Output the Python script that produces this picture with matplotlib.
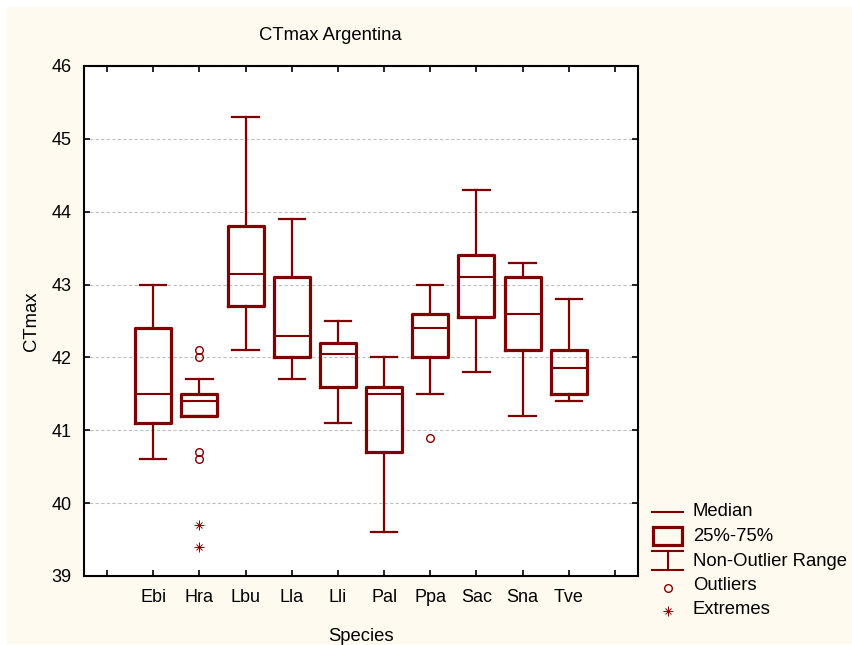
import matplotlib
matplotlib.use('Agg')
import matplotlib.pyplot as plt
from matplotlib.patches import Rectangle

plt.rcParams['font.family'] = ['Liberation Sans', 'DejaVu Sans']

species = ['Ebi', 'Hra', 'Lbu', 'Lla', 'Lli', 'Pal', 'Ppa', 'Sac', 'Sna', 'Tve']
whis_lo = [40.6, 41.2, 42.1, 41.7, 41.1, 39.6, 41.5, 41.8, 41.2, 41.4]
q1 = [41.1, 41.2, 42.7, 42.0, 41.6, 40.7, 42.0, 42.55, 42.1, 41.5]
median = [41.5, 41.4, 43.15, 42.3, 42.05, 41.5, 42.4, 43.1, 42.6, 41.85]
q3 = [42.4, 41.5, 43.8, 43.1, 42.2, 41.6, 42.6, 43.4, 43.1, 42.1]
whis_hi = [43.0, 41.7, 45.3, 43.9, 42.5, 42.0, 43.0, 44.3, 43.3, 42.8]
outliers = {'Hra': [42.1, 42.0, 40.7, 40.6], 'Ppa': [40.9]}
extremes = {'Hra': [39.7, 39.4]}

red = '#800000'
cream = '#fffaf0'

fig = plt.figure(figsize=(8.53, 6.45), dpi=100)
fig.patch.set_facecolor('white')
fig.patches.append(Rectangle((7 / 853, 1 / 645), 846 / 853, 637 / 645,
                             transform=fig.transFigure, facecolor=cream,
                             edgecolor='none', zorder=-10))

ax = fig.add_axes([84 / 853, 69 / 645, 554 / 853, 510 / 645])
ax.set_facecolor('white')

stats = []
for i, s in enumerate(species):
    stats.append(dict(label=s, med=median[i], q1=q1[i], q3=q3[i],
                      whislo=whis_lo[i], whishi=whis_hi[i], fliers=[]))
pos = list(range(1, len(species) + 1))
ax.bxp(stats, positions=pos, widths=0.78, capwidths=0.57, showfliers=False,
       boxprops=dict(color=red, linewidth=2.3),
       whiskerprops=dict(color=red, linewidth=1.6),
       capprops=dict(color=red, linewidth=1.6),
       medianprops=dict(color=red, linewidth=1.5))

for s, vals in outliers.items():
    x = species.index(s) + 1
    ax.plot([x] * len(vals), vals, 'o', mfc='none', mec=red, ms=5.5, mew=1)
for s, vals in extremes.items():
    x = species.index(s) + 1
    ax.plot([x] * len(vals), vals, '+', color=red, ms=7, mew=0.7)
    ax.plot([x] * len(vals), vals, 'x', color=red, ms=5, mew=0.7)

ax.set_xlim(-0.5, 11.5)
ax.set_ylim(39, 46)
ax.set_xticks(range(0, 12))
ax.set_xticklabels([''] + species + [''])
ax.set_yticks(range(39, 47))
ax.grid(axis='y', color='#c0c0c0', linestyle=(0, (3, 2)), linewidth=0.8)
ax.set_axisbelow(True)
ax.tick_params(direction='in', top=True, right=True, length=4, width=1.2,
               labelsize=13, pad=9)
for sp in ax.spines.values():
    sp.set_linewidth(1.5)

ax.set_xlabel('Species', fontsize=13.3, labelpad=16)
ax.set_ylabel('CTmax', fontsize=13.3, labelpad=8)
fig.text(330 / 853, 1 - 35 / 645, 'CTmax Argentina', ha='center', va='center', fontsize=13.3)

# legend drawn by hand on a full-figure overlay
lg = fig.add_axes([0, 0, 1, 1])
lg.set_xlim(0, 853)
lg.set_ylim(645, 0)
lg.axis('off')
lg.patch.set_alpha(0)
lg.plot([652, 683], [512, 512], color=red, lw=1.5)
lg.add_patch(Rectangle((653, 527), 29, 18, fill=False, edgecolor=red, lw=2.3))
lg.plot([652, 683], [551, 551], color=red, lw=1.5)
lg.plot([652, 683], [570, 570], color=red, lw=1.5)
lg.plot([668, 668], [551, 570], color=red, lw=1.5)
lg.plot([668], [588], 'o', mfc='none', mec=red, ms=5.5, mew=1)
lg.plot([668], [611], '+', color=red, ms=7, mew=0.7)
lg.plot([668], [611], 'x', color=red, ms=5, mew=0.7)
labels = ['Median', '25%-75%', 'Non-Outlier Range', 'Outliers', 'Extremes']
for k, t in enumerate(labels):
    lg.text(693, 512 + 24.5 * k, t, va='center', ha='left', fontsize=13.3)

fig.savefig('out.png', dpi=100, facecolor=fig.get_facecolor())
